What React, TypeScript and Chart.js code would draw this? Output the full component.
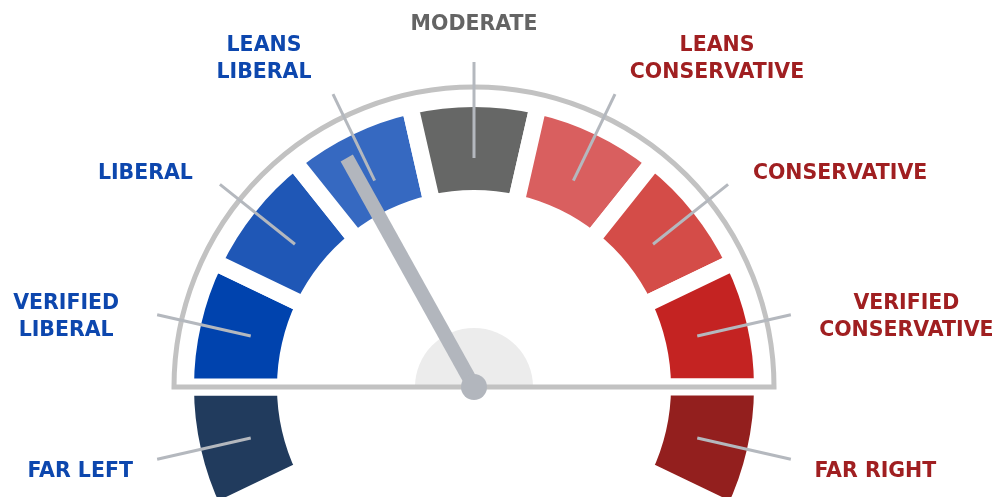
import React, { useEffect, useRef } from "react";
import { Chart, registerables } from "chart.js";

Chart.register(...registerables);

// ---- data ----
const categories = [
  "FAR LEFT",
  "VERIFIED LIBERAL",
  "LIBERAL",
  "LEANS LIBERAL",
  "MODERATE",
  "LEANS CONSERVATIVE",
  "CONSERVATIVE",
  "VERIFIED CONSERVATIVE",
  "FAR RIGHT",
];
const labelLines = [
  ["FAR LEFT"],
  ["VERIFIED", "LIBERAL"],
  ["LIBERAL"],
  ["LEANS", "LIBERAL"],
  ["MODERATE"],
  ["LEANS", "CONSERVATIVE"],
  ["CONSERVATIVE"],
  ["VERIFIED", "CONSERVATIVE"],
  ["FAR RIGHT"],
];
// angular span of each band, in band units
const segmentSpans = [1, 1, 1, 1, 1, 1, 1, 1, 1];
// unused part of the dial (bottom)
const unusedSpan = 5;
// needle position, in band units measured from the start of FAR LEFT
const needleValue = 3.37;

// ---- styles ----
const segmentColors = [
  "#213b5d",
  "#0043ae",
  "#1f57b6",
  "#3669c1",
  "#666766",
  "#d95f5f",
  "#d44c48",
  "#c42322",
  "#931f1e",
];
const labelColors = [
  "#0d47ae",
  "#0d47ae",
  "#0d47ae",
  "#0d47ae",
  "#646464",
  "#a01f21",
  "#a01f21",
  "#a01f21",
  "#a01f21",
];
// text block centre relative to outer end of the leader line
const labelOffsets: [number, number][] = [
  [-77, 10.5],
  [-91, 0.5],
  [-74.5, -13],
  [-69, -37],
  [0, -40],
  [102, -37],
  [112, -13],
  [115.5, 0],
  [84.5, 10.5],
];

const GAP = 17; // white gap between bands
const OUTER = 280 + GAP / 2;
const INNER = 197 - GAP / 2;
const OUTLINE_R = 300;
const LEADER_IN = 229;
const LEADER_OUT = 325;
const NEEDLE_LEN = 262;
const HUB_R = 59;
const FONT = 'bold 20.5px "DejaVu Sans"';
const LINE_H = 27;

const gaugePlugin = {
  id: "gaugeDecor",
  afterDatasetsDraw(chart: any) {
    const ctx: CanvasRenderingContext2D = chart.ctx;
    const arcs = chart.getDatasetMeta(0).data as any[];
    const cx = arcs[0].x;
    const cy = arcs[0].y;
    const unit = arcs[0].endAngle - arcs[0].startAngle;

    ctx.save();
    // light hub half-disc
    ctx.beginPath();
    ctx.arc(cx, cy, HUB_R, Math.PI, 2 * Math.PI);
    ctx.closePath();
    ctx.fillStyle = "#ececec";
    ctx.fill();

    // outline + base line
    ctx.beginPath();
    ctx.arc(cx, cy, OUTLINE_R, Math.PI, 2 * Math.PI);
    ctx.closePath();
    ctx.lineWidth = 5;
    ctx.lineJoin = "miter";
    ctx.strokeStyle = "#c2c2c2";
    ctx.stroke();

    // leader lines
    ctx.lineWidth = 3;
    ctx.lineCap = "butt";
    ctx.strokeStyle = "#b4b8be";
    const ends: [number, number][] = [];
    for (let i = 0; i < categories.length; i++) {
      const a = arcs[i];
      const mid = (a.startAngle + a.endAngle) / 2;
      const c = Math.cos(mid);
      const s = Math.sin(mid);
      ctx.beginPath();
      ctx.moveTo(cx + c * LEADER_IN, cy + s * LEADER_IN);
      ctx.lineTo(cx + c * LEADER_OUT, cy + s * LEADER_OUT);
      ctx.stroke();
      ends.push([cx + c * LEADER_OUT, cy + s * LEADER_OUT]);
    }

    // needle
    const na = arcs[0].startAngle + needleValue * unit;
    ctx.beginPath();
    ctx.moveTo(cx, cy);
    ctx.lineTo(cx + Math.cos(na) * NEEDLE_LEN, cy + Math.sin(na) * NEEDLE_LEN);
    ctx.lineWidth = 14;
    ctx.strokeStyle = "#b2b6bd";
    ctx.stroke();
    ctx.beginPath();
    ctx.arc(cx, cy, 13, 0, 2 * Math.PI);
    ctx.fillStyle = "#b2b6bd";
    ctx.fill();

    // labels
    ctx.font = FONT;
    ctx.textAlign = "center";
    ctx.textBaseline = "alphabetic";
    for (let i = 0; i < categories.length; i++) {
      const lines = labelLines[i];
      const [ex, ey] = ends[i];
      const tx = ex + labelOffsets[i][0];
      const ty = ey + labelOffsets[i][1];
      ctx.fillStyle = labelColors[i];
      const n = lines.length;
      lines.forEach((ln, k) => {
        const y = ty + (k - (n - 1) / 2) * LINE_H + 7.5;
        ctx.fillText(ln, tx, y);
      });
    }
    ctx.restore();
  },
};

export default function App() {
  const ref = useRef<HTMLCanvasElement | null>(null);
  useEffect(() => {
    if (!ref.current) return;
    const data = [...segmentSpans, unusedSpan];
    const chart = new Chart(ref.current, {
      type: "doughnut",
      data: {
        labels: [...categories, ""],
        datasets: [
          {
            data,
            backgroundColor: [...segmentColors, "rgba(0,0,0,0)"],
            borderColor: "#ffffff",
            borderWidth: [...segmentSpans.map(() => GAP), 0],
            hoverOffset: 0,
          },
        ],
      },
      options: {
        responsive: false,
        animation: false,
        devicePixelRatio: 1,
        events: [],
        rotation: 180 + 90 - (180 * segmentSpans[0]) / 7,
        radius: OUTER,
        cutout: `${(INNER / OUTER) * 100}%`,
        layout: { padding: { left: 0, right: 51, top: 0, bottom: 0 } },
        plugins: {
          legend: { display: false },
          tooltip: { enabled: false },
        },
      },
      plugins: [gaugePlugin],
    } as any);
    return () => chart.destroy();
  }, []);
  return (
    <div
      style={{
        position: "fixed",
        left: 0,
        top: 0,
        width: 999,
        height: 497,
        overflow: "hidden",
        background: "#ffffff",
      }}
    >
      <canvas ref={ref} width={999} height={774} style={{ display: "block" }} />
    </div>
  );
}
